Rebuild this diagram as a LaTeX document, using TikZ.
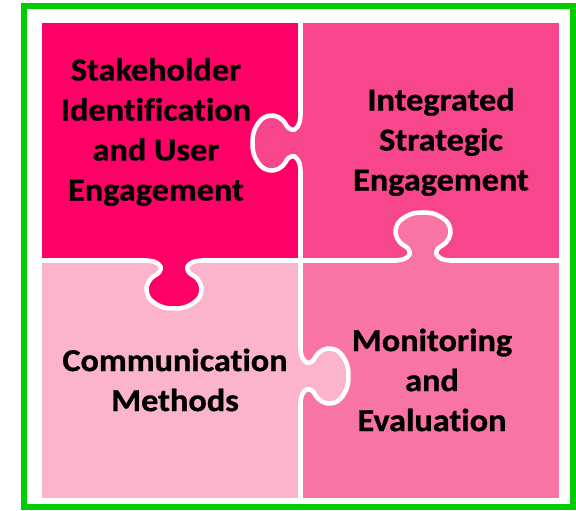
\documentclass[tikz,border=0pt]{standalone}
\usepackage{fontspec}
\setmainfont{Carlito}
\newfontfamily\lblfont{Carlito}[Ligatures=NoCommon, BoldFeatures={FakeBold=0.8}]
\definecolor{pA}{RGB}{255,0,102}
\definecolor{pB}{RGB}{248,70,140}
\definecolor{pC}{RGB}{252,180,205}
\definecolor{pD}{RGB}{248,116,164}
\definecolor{frame}{RGB}{0,204,0}
\newcommand\puzzletab[7]{%
  \begin{scope}[shift={(#1pt,#2pt)}, x={(#3pt,#4pt)}, y={(#5pt,#6pt)}]
    \fill[#7] plot[smooth,tension=0.6] coordinates {(-27,0) (-19,1.5) (-13.5,6) (-15,12) (-23,18) (-27.5,27) (-24.5,38) (-13,46) (0,48) (13,46) (24.5,38) (27.5,27) (23,18) (15,12) (13.5,6) (19,1.5) (27,0)} -- (27,-6) -- (-27,-6) -- cycle;
    \draw[tabline] plot[smooth,tension=0.6] coordinates {(-27,0) (-19,1.5) (-13.5,6) (-15,12) (-23,18) (-27.5,27) (-24.5,38) (-13,46) (0,48) (13,46) (24.5,38) (27.5,27) (23,18) (15,12) (13.5,6) (19,1.5) (27,0)};
  \end{scope}}
\begin{document}
\begin{tikzpicture}[x=1pt,y=1pt,
  lbl/.style={font=\lblfont\fontsize{32}{40}\selectfont\bfseries, align=center, text=black, inner sep=0pt, xscale=1.07},
  tabline/.style={draw=white, line width=4.5pt}]
\useasboundingbox (0,0) rectangle (576,511);
\fill[white] (0,0) rectangle (576,511);
\draw[frame, line width=6pt] (24,3.5) rectangle (573,504.5);
% pieces
\fill[pA] (42,253) rectangle (298,488);
\fill[pB] (303,253) rectangle (559,488);
\fill[pC] (42,13) rectangle (298,248);
\fill[pD] (303,13) rectangle (559,248);
% tabs
\puzzletab{300.5}{368}{0}{1}{-1}{0}{pB}
\puzzletab{174}{250.5}{1}{0}{0}{-1}{pA}
\puzzletab{423}{250.5}{1}{0}{0}{1}{pD}
\puzzletab{300.5}{135}{0}{1}{1}{0}{pC}
% labels
\node[lbl] (sue) at (156,379) {Stakeholder\\Identification\\and User\\Engagement};
\node[lbl] (ise) at (441,369) {Integrated\\Strategic\\Engagement};
\node[lbl] (cm) at (175,131) {Communication\\Methods};
\node[lbl] (me) at (432,131) {Monitoring\\and\\Evaluation};
\end{tikzpicture}
\end{document}
